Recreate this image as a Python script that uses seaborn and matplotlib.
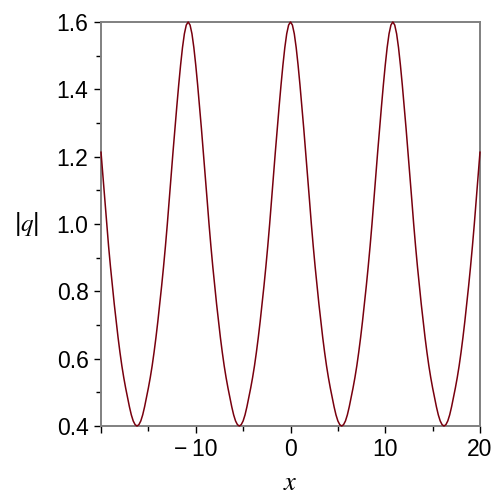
import numpy as np
import pandas as pd
import seaborn as sns
import matplotlib.pyplot as plt
from matplotlib.ticker import MultipleLocator, FixedLocator

# sample positions along x (step 0.2 from -20 to 20)
x_start = -20.0
x_stop = 20.0
n_points = 201

# |q| at each sample position
q_abs = [
    1.214, 1.144, 1.072, 1.000, 0.934, 0.873, 0.816, 0.762, 0.711, 0.663,
    0.619, 0.579, 0.544, 0.513, 0.485, 0.457, 0.433, 0.415, 0.404, 0.400,
    0.404, 0.415, 0.433, 0.457, 0.485, 0.513, 0.544, 0.579, 0.619, 0.663,
    0.711, 0.762, 0.816, 0.873, 0.934, 1.000, 1.072, 1.144, 1.214, 1.283,
    1.349, 1.413, 1.472, 1.524, 1.565, 1.591, 1.600,
    1.591, 1.565, 1.524, 1.472, 1.413, 1.349, 1.283, 1.214, 1.144, 1.072,
    1.000, 0.934, 0.873, 0.816, 0.762, 0.711, 0.663, 0.619, 0.579, 0.544,
    0.513, 0.485, 0.457, 0.433, 0.415, 0.404, 0.400,
    0.404, 0.415, 0.433, 0.457, 0.485, 0.513, 0.544, 0.579, 0.619, 0.663,
    0.711, 0.762, 0.816, 0.873, 0.934, 1.000, 1.072, 1.144, 1.214, 1.283,
    1.349, 1.413, 1.472, 1.524, 1.565, 1.591, 1.600,
    1.591, 1.565, 1.524, 1.472, 1.413, 1.349, 1.283, 1.214, 1.144, 1.072,
    1.000, 0.934, 0.873, 0.816, 0.762, 0.711, 0.663, 0.619, 0.579, 0.544,
    0.513, 0.485, 0.457, 0.433, 0.415, 0.404, 0.400,
    0.404, 0.415, 0.433, 0.457, 0.485, 0.513, 0.544, 0.579, 0.619, 0.663,
    0.711, 0.762, 0.816, 0.873, 0.934, 1.000, 1.072, 1.144, 1.214, 1.283,
    1.349, 1.413, 1.472, 1.524, 1.565, 1.591, 1.600,
    1.591, 1.565, 1.524, 1.472, 1.413, 1.349, 1.283, 1.214, 1.144, 1.072,
    1.000, 0.934, 0.873, 0.816, 0.762, 0.711, 0.663, 0.619, 0.579, 0.544,
    0.513, 0.485, 0.457, 0.433, 0.415, 0.404, 0.400,
    0.404, 0.415, 0.433, 0.457, 0.485, 0.513, 0.544, 0.579, 0.619, 0.663,
    0.711, 0.762, 0.816, 0.873, 0.934, 1.000, 1.072, 1.144, 1.214,
]

x_ticks = [-20, -10, 0, 10, 20]
x_tick_labels = ['', '\u2212\u200910', '0', '10', '20']
y_ticks = [0.4, 0.6, 0.8, 1.0, 1.2, 1.4, 1.6]
y_tick_labels = ['0.4', '0.6', '0.8', '1.0', '1.2', '1.4', '1.6']

sns.set_style('white')
plt.rcParams['font.family'] = ['Liberation Sans', 'DejaVu Sans']
plt.rcParams['mathtext.fontset'] = 'stix'
plt.rcParams['text.color'] = 'black'
plt.rcParams['axes.labelcolor'] = 'black'

df = pd.DataFrame({'x': np.linspace(x_start, x_stop, n_points), 'q': q_abs})

fig = plt.figure(figsize=(5, 5), dpi=100)
ax = fig.add_axes([0.202, 0.148, 0.758, 0.808])

sns.lineplot(data=df, x='x', y='q', ax=ax, color='#78000E', linewidth=1.1,
             clip_on=False, zorder=3)

ax.set_xlim(x_start, x_stop)
ax.set_ylim(0.4, 1.6)

ax.xaxis.set_major_locator(FixedLocator(x_ticks))
ax.set_xticklabels(x_tick_labels)
ax.xaxis.set_minor_locator(MultipleLocator(5))
ax.yaxis.set_major_locator(FixedLocator(y_ticks))
ax.set_yticklabels(y_tick_labels)
ax.yaxis.set_minor_locator(MultipleLocator(0.1))

ax.tick_params(which='major', direction='out', length=5, width=1, color='black',
               labelcolor='black', labelsize=16.5, pad=4,
               bottom=True, left=True, top=False, right=False)
ax.tick_params(which='minor', direction='out', length=3.5, width=1, color='black',
               bottom=True, left=True, top=False, right=False)

for side in ['left', 'right', 'top', 'bottom']:
    ax.spines[side].set_visible(True)
    ax.spines[side].set_color('#808080')
    ax.spines[side].set_linewidth(1.4)

ax.set_xlabel(r'$x$', fontsize=19, va='center')
ax.set_ylabel(r'|$q$|', fontsize=18, rotation=0, va='center', ha='center')
ax.xaxis.set_label_coords(0.5, -0.14)
ax.yaxis.set_label_coords(-0.195, 0.5)

fig.savefig('out.png', dpi=100)
